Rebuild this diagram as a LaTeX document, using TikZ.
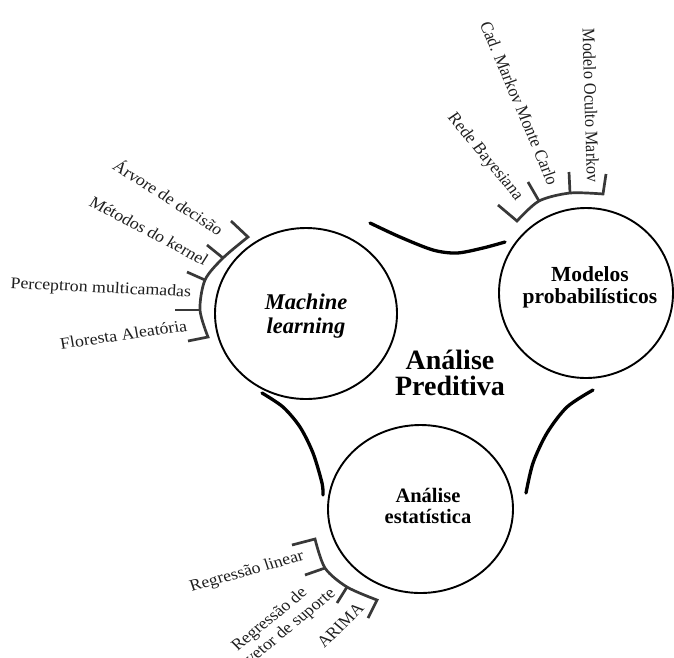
\documentclass[tikz,border=0pt]{standalone}
\usepackage{fontspec}
\setmainfont{Liberation Serif}
\usetikzlibrary{shapes.geometric}
\begin{document}
\begin{tikzpicture}[x=1pt,y=-1pt,
  ring/.style={draw, ellipse, line width=1.9pt, inner sep=0pt},
  link/.style={line width=3.3pt, line cap=round},
  brace/.style={draw=black!78, line width=2.7pt, line join=miter},
  leaf/.style={inner sep=0pt, font=\fontsize{16.2}{18}\selectfont, text=black!88},
  hub/.style={align=center, inner sep=0pt}]

\useasboundingbox[fill=white] (0,0) rectangle (674,657);

% the three areas
\node[ring, minimum width=182pt, minimum height=171pt] (ml) at (306,313.5) {};
\node[ring, minimum width=174pt, minimum height=170pt] (prob) at (586,293) {};
\node[ring, minimum width=185pt, minimum height=168pt] (stat) at (420.5,509) {};

\node[hub, font=\fontsize{22.5}{24}\selectfont\bfseries\itshape] (mltxt) at (306,316) {Machine\\learning};
\node[hub, font=\fontsize{21.5}{22}\selectfont\bfseries] (probtxt) at (590,287) {Modelos\\probabilísticos};
\node[hub, font=\fontsize{20.5}{21.5}\selectfont\bfseries] (stattxt) at (428,506) {Análise\\estatística};
\node[hub, font=\fontsize{28}{26}\selectfont\bfseries] (core) at (450,373) {Análise\\Preditiva};

% curved links between the areas
\draw[link] plot[smooth] coordinates {(370,223) (400,237) (433,250) (457,253) (483,248) (505,242)};
\draw[link] plot[smooth] coordinates {(262,393) (283,407) (300,427) (313,453) (322,483) (323,495)};
\draw[link] plot[smooth] coordinates {(593,390) (567,407) (547,433) (533,463) (526,493)};

% brackets of the machine learning methods
\draw[brace] (231,221) -- plot[smooth] coordinates {(248,237) (223,258) (205,280) (200,310) (208,337)} -- (188,341);
\draw[brace] (223,258) -- (207,245);
\draw[brace] (205,280) -- (187,272);
\draw[brace] (200,310) -- (175,310);

% brackets of the probabilistic models
\draw[brace] (498,205) -- plot[smooth] coordinates {(517,221) (539,201) (570,193) (603,194)} -- (606,174);
\draw[brace] (539,201) -- (528,182);
\draw[brace] (570,193) -- (569,172);

% brackets of the statistical methods
\draw[brace] (292,545) -- plot[smooth] coordinates {(315,539) (325,568) (347,587) (377,600)} -- (368,618);
\draw[brace] (325,568) -- (305,575);
\draw[brace] (347,587) -- (337,603);

% method labels, set slightly wide
\node[leaf, anchor=base east, xscale=1.1, rotate=-35] (l1) at (218,236) {Árvore de decisão};
\node[leaf, anchor=base east, xscale=1.1, rotate=-30] (l2) at (204,266) {Métodos do kernel};
\node[leaf, anchor=base east, xscale=1.1, rotate=-3] (l3) at (191,297) {Perceptron multicamadas};
\node[leaf, anchor=base east, xscale=1.1, rotate=9] (l4) at (188,331) {Floresta Aleatória};

\node[leaf, anchor=base east, xscale=1.1, rotate=-53] (p1) at (516,201) {Rede Bayesiana};
\node[leaf, anchor=base east, xscale=1.1, rotate=-69] (p2) at (548,186) {Cad. Markov Monte Carlo};
\node[leaf, anchor=base east, xscale=1.1, rotate=-88.5] (p3) at (587,183) {Modelo Oculto Markov};

\node[leaf, anchor=base east, xscale=1.1, rotate=17] (s1) at (305,560) {Regressão linear};
\node[leaf, anchor=north west, align=left, xscale=1.1, rotate=42] (s2) at (229,643) {Regressão de\\vetor de suporte};
\node[leaf, anchor=base east, xscale=1.1, rotate=47] (s3) at (365,609) {ARIMA};
\end{tikzpicture}
\end{document}
